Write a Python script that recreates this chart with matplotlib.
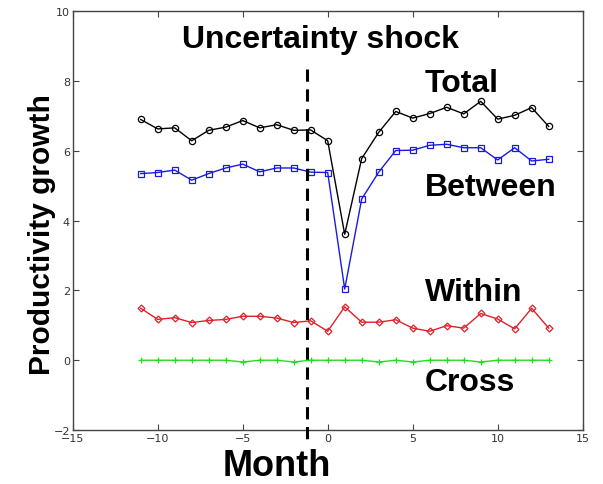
import matplotlib
matplotlib.use("Agg")
import matplotlib.pyplot as plt

months = list(range(-11, 14))
total = [6.90, 6.63, 6.66, 6.29, 6.59, 6.68, 6.87, 6.66, 6.75, 6.59, 6.60, 6.29,
         3.61, 5.78, 6.53, 7.13, 6.94, 7.07, 7.25, 7.06, 7.42, 6.91, 7.02, 7.24, 6.70]
between = [5.35, 5.38, 5.45, 5.16, 5.35, 5.51, 5.62, 5.40, 5.51, 5.51, 5.39, 5.38,
           2.04, 4.62, 5.39, 6.01, 6.02, 6.16, 6.19, 6.09, 6.09, 5.74, 6.09, 5.71, 5.76]
within = [1.49, 1.17, 1.22, 1.08, 1.14, 1.17, 1.26, 1.26, 1.21, 1.08, 1.13, 0.83,
          1.53, 1.09, 1.09, 1.16, 0.92, 0.83, 0.99, 0.92, 1.34, 1.18, 0.90, 1.49, 0.92]
cross = [0.0, 0.0, 0.0, 0.0, 0.0, 0.0, -0.05, 0.0, 0.0, -0.05, 0.0, 0.0,
         0.0, 0.0, -0.05, 0.0, -0.05, 0.0, 0.0, 0.0, -0.05, 0.0, 0.0, 0.0, 0.0]
shock_month = -1.2
xticks = [-15, -10, -5, 0, 5, 10, 15]
yticks = [-2, 0, 2, 4, 6, 8, 10]

fig = plt.figure(figsize=(6.03, 4.85), dpi=100)
ax = fig.add_axes([0.1206, 0.1113, 0.9663 - 0.1206, 0.9746 - 0.1113])

ax.plot(months, total, '-o', color='black', lw=1.0, ms=4.5, mfc='none', mew=0.9)
ax.plot(months, between, '-s', color='#1a1adf', lw=1.0, ms=4.5, mfc='none', mew=0.9)
ax.plot(months, within, '-D', color='#e0202a', lw=1.0, ms=3.5, mfc='none', mew=0.9)
ax.plot(months, cross, '-+', color='#22dd22', lw=1.0, ms=4, mew=0.9)

ax.plot([shock_month, shock_month], [8.35, -2.35], color='black', lw=2.2,
        dashes=(4, 2.5), clip_on=False, zorder=5)

ax.set_xlim(-15, 15)
ax.set_ylim(-2, 10)
ax.set_xticks(xticks)
ax.set_yticks(yticks)
ax.tick_params(direction='in', length=4, width=0.8, top=True, right=True,
               labelsize=8, colors='#444444', labelcolor='#333333', pad=2)
for s in ax.spines.values():
    s.set_color('#444444')
    s.set_linewidth(1.0)

bold = dict(fontweight='bold', family='Liberation Sans', color='black')
ax.text(-0.4, 9.2, 'Uncertainty shock', ha='center', va='center', fontsize=23, **bold)
ax.text(5.72, 7.95, 'Total', ha='left', va='center', fontsize=23, **bold)
ax.text(5.72, 4.97, 'Between', ha='left', va='center', fontsize=23, **bold)
ax.text(5.72, 1.96, 'Within', ha='left', va='center', fontsize=23, **bold)
ax.text(5.72, -0.62, 'Cross', ha='left', va='center', fontsize=23, **bold)

fig.text(277 / 603, 1 - 467 / 485, 'Month', ha='center', va='center', fontsize=26, **bold)
fig.text(42 / 603, 1 - 235 / 485, 'Productivity growth', ha='center', va='center',
         rotation=90, fontsize=21.5, **bold)

fig.savefig('out.png', dpi=100)
